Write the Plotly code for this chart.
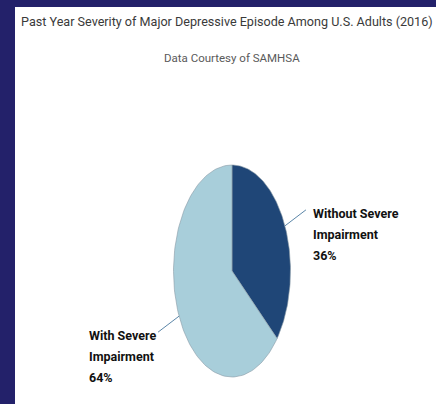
import math
import plotly.graph_objects as go

# Data
categories = ["Without Severe Impairment", "With Severe Impairment"]
label_lines = [["Without Severe", "Impairment"], ["With Severe", "Impairment"]]
values = [36, 64]
slice_colors = ["#1f4677", "#a8ceda"]

TITLE = "Past Year Severity of Major Depressive Episode Among U.S. Adults (2016)"
SUBTITLE = "Data Courtesy of SAMHSA"

W, H = 436, 404
NAVY = "#23216a"

# Pie geometry (pixel space, y grows downward)
cx, cy = 232, 271
rx, ry = 58.5, 106
lead_dx, lead_dy = 21, 16
line_gap = 21

def ellipse_point(frac):
    th = 2 * math.pi * frac
    return cx + rx * math.sin(th), cy - ry * math.cos(th)

fig = go.Figure()

total = sum(values)
start = 0.0
label_specs = []
for name, lines, v, col in zip(categories, label_lines, values, slice_colors):
    frac = v / total
    n = 120
    xs, ys = [cx], [cy]
    for i in range(n + 1):
        px, py = ellipse_point(start + frac * i / n)
        xs.append(px)
        ys.append(py)
    xs.append(cx)
    ys.append(cy)
    fig.add_trace(go.Scatter(
        x=xs, y=ys, mode="lines", fill="toself", fillcolor=col,
        line=dict(color="#8a9aa6", width=0.6), name=name,
        hoverinfo="name", showlegend=False,
    ))
    mid = start + frac / 2
    mx, my = ellipse_point(mid)
    side = 1 if math.sin(2 * math.pi * mid) >= 0 else -1
    ex = mx + side * lead_dx
    ey = my + (-lead_dy if math.cos(2 * math.pi * mid) > 0 else lead_dy)
    fig.add_trace(go.Scatter(
        x=[mx, ex], y=[my, ey], mode="lines",
        line=dict(color="#5b86a8", width=1), hoverinfo="skip", showlegend=False,
    ))
    label_specs.append((side, ex, ey, lines, v))
    start += frac

label_font = dict(family="Roboto, Liberation Sans, sans-serif", size=12.5,
                  color="#111111", weight=700)
for side, ex, ey, lines, v in label_specs:
    x0 = ex + 5 if side > 0 else ex - 71
    y0 = ey - 6
    for k, ln in enumerate(lines + [f"{v}%"]):
        fig.add_annotation(x=x0, y=y0 + k * line_gap, text=ln, showarrow=False,
                           xanchor="left", yanchor="top", align="left",
                           font=label_font)

# White panel over navy frame
fig.add_shape(type="rect", xref="paper", yref="paper", x0=15 / W, x1=1.0,
              y0=0, y1=1 - 7 / H, fillcolor="white", line_width=0, layer="below")

fig.add_annotation(xref="paper", yref="paper", x=19 / W, y=1 - 12 / H, text=TITLE,
                   showarrow=False, xanchor="left", yanchor="top",
                   font=dict(family="Roboto, sans-serif", size=12.6, color="#3a3a3a"))
fig.add_annotation(xref="paper", yref="paper", x=232 / W, y=1 - 49 / H, text=SUBTITLE,
                   showarrow=False, xanchor="center", yanchor="top",
                   font=dict(family="Roboto, sans-serif", size=11.5, color="#5a5a5a"))

fig.update_layout(
    width=W, height=H, margin=dict(l=0, r=0, t=0, b=0),
    paper_bgcolor=NAVY, plot_bgcolor="rgba(0,0,0,0)",
    xaxis=dict(range=[0, W], visible=False, fixedrange=True),
    yaxis=dict(range=[H, 0], visible=False, fixedrange=True),
)

fig.write_html("out.html")
